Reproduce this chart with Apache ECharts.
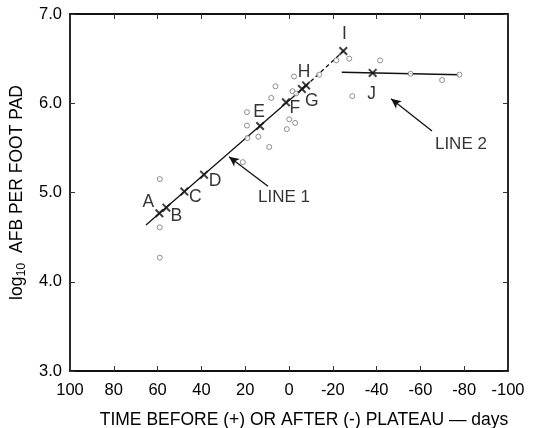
<!DOCTYPE html>
<html><head><meta charset="utf-8">
<script src="https://cdn.jsdelivr.net/npm/echarts@6/dist/echarts.min.js"></script>
<style>html,body{margin:0;padding:0;background:#fff}#c{width:535px;height:428px}</style>
</head><body><div id="c"></div>
<script>
// ---- data ----
const crossLabels = ['A','B','C','D','E','F','G','H','I','J'];
const crossX = [59.2, 56.0, 47.8, 38.8, 13.2, 1.4, -5.9, -7.8, -24.8, -38.2];
const crossY = [4.767, 4.83, 5.01, 5.20, 5.745, 6.01, 6.16, 6.20, 6.585, 6.34];
const circleX = [59.0, 59.0, 59.0, 21.1, 9.0, 19.2, 19.2, 19.0, 14.0, 8.1, 6.2, -0.1, 1.0, -2.8, -2.3, -1.6, -3.3, -13.8, -21.6, -27.5, -41.6, -28.9, -69.9, -77.8, -55.5];
const circleY = [5.15, 4.61, 4.27, 5.34, 5.51, 5.90, 5.75, 5.61, 5.625, 6.06, 6.19, 5.82, 5.71, 5.78, 6.30, 6.135, 6.11, 6.32, 6.48, 6.50, 6.48, 6.08, 6.26, 6.32, 6.33];
const line1SolidX = [65.3, -7.5];
const line1SolidY = [4.635, 6.19];
const line1DashX = [-7.5, -25.5];
const line1DashY = [6.19, 6.60];
const line2X = [-24.1, -77.8];
const line2Y = [6.347, 6.32];
const annotText = ['LINE 1', 'LINE 2'];
const annotX = [2.3, -78.5];
const annotY = [4.95, 5.54];
const arrowFromX = [9.6, -65.3];
const arrowFromY = [5.07, 5.69];
const arrowToX = [27.4, -46.6];
const arrowToY = [5.40, 6.05];

// ---- styles ----
const labelOffsets = [[-11,-11],[10,8],[11,6],[11,7],[-1,-14],[9,6],[10,12],[-2,-13],[1,-17],[-1,21]];
const FONT = '"Liberation Sans", Arial, sans-serif';
const zip = (a, b) => a.map((v, i) => [v, b[i]]);
const crossPath = 'path://M0,1.6L1.6,0L10,8.4L8.4,10Z M8.4,0L10,1.6L1.6,10L0,8.4Z';

const chart = echarts.init(document.getElementById('c'), null, {renderer: 'canvas'});
const axisCommon = {
  type: 'value',
  axisLine: {show: true, onZero: false, lineStyle: {color: '#111', width: 1.8}},
  axisTick: {show: true, inside: true, length: 5, lineStyle: {color: '#333', width: 1}},
  splitLine: {show: false}
};
chart.setOption({
  animation: false,
  backgroundColor: '#fff',
  grid: {left: 70, right: 27, top: 14, bottom: 57, containLabel: false, outerBoundsMode: 'none'},
  xAxis: [
    Object.assign({}, axisCommon, {
      min: -100, max: 100, interval: 20, inverse: true, position: 'bottom',
      axisLabel: {color: '#000', fontSize: 16.5, fontFamily: FONT, margin: 11},
      name: 'TIME BEFORE (+) OR AFTER (-) PLATEAU — days',
      nameLocation: 'middle', nameGap: 40,
      nameTextStyle: {color: '#000', fontSize: 17.5, fontFamily: FONT, padding: [0, 0, 0, 30]}
    }),
    Object.assign({}, axisCommon, {
      min: -100, max: 100, interval: 20, inverse: true, position: 'top',
      axisLabel: {show: false}
    })
  ],
  yAxis: [
    Object.assign({}, axisCommon, {
      min: 3, max: 7, interval: 1, position: 'left',
      axisLabel: {color: '#000', fontSize: 16.5, fontFamily: FONT, margin: 8,
        formatter: v => v.toFixed(1)},
      name: '{n|log}{s|10}{n|  AFB PER FOOT PAD}',
      nameLocation: 'middle', nameRotate: 90, nameGap: 40,
      nameTextStyle: {color: '#000', fontSize: 17.5, fontFamily: FONT,
        rich: {n: {fontSize: 17.5, fontFamily: FONT, color: '#000'},
               s: {fontSize: 12.5, fontFamily: FONT, color: '#000', padding: [9, 0, 0, 0]}}}
    }),
    Object.assign({}, axisCommon, {
      min: 3, max: 7, interval: 1, position: 'right',
      axisLabel: {show: false}
    })
  ],
  series: [
    {type: 'line', data: zip(line1SolidX, line1SolidY), symbol: 'none',
     lineStyle: {color: '#111', width: 1.3}, silent: true, z: 3},
    {type: 'line', data: zip(line1DashX, line1DashY), symbol: 'none',
     lineStyle: {color: '#111', width: 1.3, type: [4, 3]}, silent: true, z: 3},
    {type: 'line', data: zip(line2X, line2Y), symbol: 'none',
     lineStyle: {color: '#111', width: 1.5}, silent: true, z: 3},
    {type: 'scatter', data: zip(circleX, circleY), symbol: 'circle', symbolSize: 5,
     itemStyle: {color: '#fff', borderColor: '#666', borderWidth: 0.9}, z: 4},
    {type: 'scatter', symbol: crossPath, symbolSize: 9,
     itemStyle: {color: '#111'}, z: 5,
     data: crossX.map((x, i) => ({
       value: [x, crossY[i]],
       label: {show: true, formatter: crossLabels[i], position: 'inside',
         offset: labelOffsets[i], color: '#000', fontSize: 17.5, fontFamily: FONT}
     }))},
    {type: 'scatter', symbol: 'circle', symbolSize: 1, z: 6,
     itemStyle: {color: 'rgba(0,0,0,0)'},
     data: annotX.map((x, i) => ({
       value: [x, annotY[i]],
       label: {show: true, formatter: annotText[i], position: 'inside',
         color: '#000', fontSize: 17, fontFamily: FONT}
     })),
     markLine: {
       silent: true, symbol: ['none', 'arrow'], symbolSize: [7, 10],
       lineStyle: {color: '#111', width: 1.3, type: 'solid'},
       label: {show: false},
       data: arrowFromX.map((x, i) => [
         {coord: [x, arrowFromY[i]]},
         {coord: [arrowToX[i], arrowToY[i]]}
       ])
     }}
  ]
});
</script></body></html>
